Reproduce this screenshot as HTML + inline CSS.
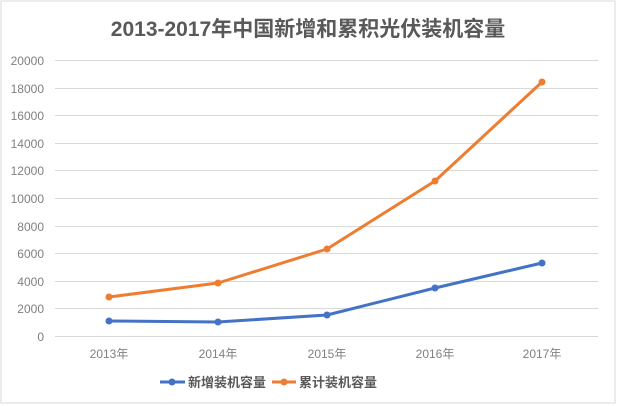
<!DOCTYPE html>
<html><head><meta charset="utf-8"><style>
html,body{margin:0;padding:0;background:#fff;}
svg{display:block;font-family:"Liberation Sans","Noto Sans CJK SC",sans-serif;}
</style></head><body>
<svg width="617" height="406" viewBox="0 0 617 406" xmlns="http://www.w3.org/2000/svg">
<rect x="1" y="1" width="614" height="402" fill="#fff" stroke="#d9d9d9"/>
<text x="308" y="36" text-anchor="middle" font-size="21" font-weight="bold" fill="#595959">2013-2017年中国新增和累积光伏装机容量</text>
<g stroke="#d9d9d9" stroke-width="1">
<line x1="55" x2="598" y1="60.5" y2="60.5"/>
<line x1="55" x2="598" y1="88.5" y2="88.5"/>
<line x1="55" x2="598" y1="115.5" y2="115.5"/>
<line x1="55" x2="598" y1="143.5" y2="143.5"/>
<line x1="55" x2="598" y1="170.5" y2="170.5"/>
<line x1="55" x2="598" y1="198.5" y2="198.5"/>
<line x1="55" x2="598" y1="226.5" y2="226.5"/>
<line x1="55" x2="598" y1="253.5" y2="253.5"/>
<line x1="55" x2="598" y1="281.5" y2="281.5"/>
<line x1="55" x2="598" y1="308.5" y2="308.5"/>
<line x1="55" x2="598" y1="336.5" y2="336.5"/>
</g>
<g font-size="12" fill="#808080" text-anchor="end">
<text x="44" y="65">20000</text>
<text x="44" y="93">18000</text>
<text x="44" y="120">16000</text>
<text x="44" y="148">14000</text>
<text x="44" y="175">12000</text>
<text x="44" y="203">10000</text>
<text x="44" y="231">8000</text>
<text x="44" y="258">6000</text>
<text x="44" y="286">4000</text>
<text x="44" y="313">2000</text>
<text x="44" y="341">0</text>
</g>
<g font-size="12" fill="#808080" text-anchor="middle">
<text x="109" y="358">2013年</text>
<text x="218" y="358">2014年</text>
<text x="327" y="358">2015年</text>
<text x="435" y="358">2016年</text>
<text x="542" y="358">2017年</text>
</g>
<polyline points="109,297 218,283 327,249 435,181 542,82" fill="none" stroke="#ed7d31" stroke-width="3" stroke-linejoin="round"/>
<g fill="#ed7d31"><circle cx="109" cy="297" r="3.5"/><circle cx="218" cy="283" r="3.5"/><circle cx="327" cy="249" r="3.5"/><circle cx="435" cy="181" r="3.5"/><circle cx="542" cy="82" r="3.5"/></g>
<polyline points="109,321 218,322 327,315 435,288 542,263" fill="none" stroke="#4472c4" stroke-width="3" stroke-linejoin="round"/>
<g fill="#4472c4"><circle cx="109" cy="321" r="3.5"/><circle cx="218" cy="322" r="3.5"/><circle cx="327" cy="315" r="3.5"/><circle cx="435" cy="288" r="3.5"/><circle cx="542" cy="263" r="3.5"/></g>
<line x1="160" x2="185" y1="382" y2="382" stroke="#4472c4" stroke-width="3"/>
<circle cx="172" cy="382" r="3.5" fill="#4472c4"/>
<text x="188" y="387" font-size="13" font-weight="bold" fill="#595959">新增装机容量</text>
<line x1="272" x2="296" y1="382" y2="382" stroke="#ed7d31" stroke-width="3"/>
<circle cx="284" cy="382" r="3.5" fill="#ed7d31"/>
<text x="299" y="387" font-size="13" font-weight="bold" fill="#595959">累计装机容量</text>
</svg>
</body></html>
